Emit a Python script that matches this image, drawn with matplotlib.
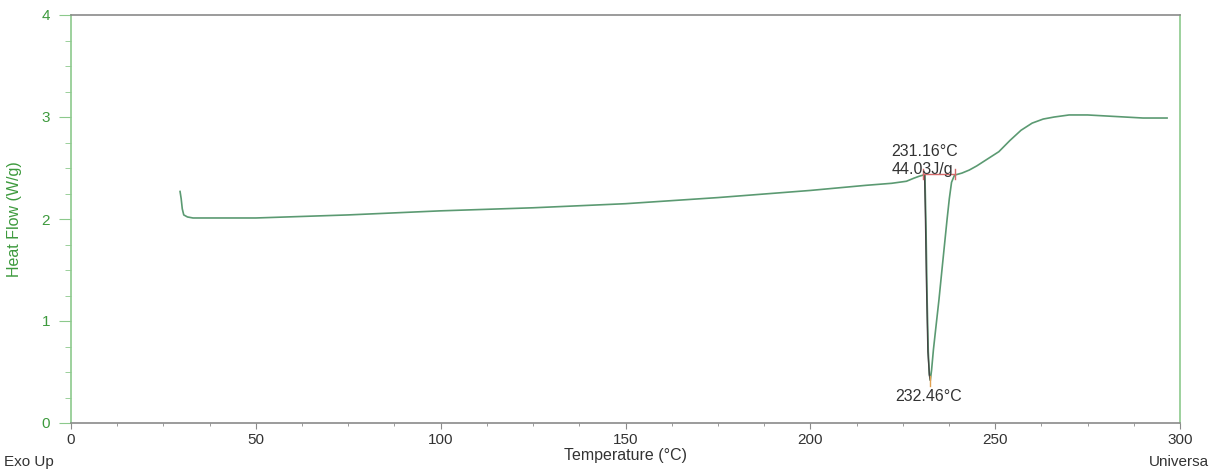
import matplotlib.pyplot as plt
from matplotlib.ticker import MultipleLocator

# DSC trace
temp = [29.5, 29.8, 30.1, 30.5, 31.5, 33, 35, 50, 75, 100, 125, 150, 175, 200,
        215, 222, 226, 228, 229.5, 230.5, 231.0, 231.3, 231.6, 231.9, 232.2,
        232.46, 232.8, 233.3, 234.0, 234.8, 235.6, 236.3, 237.0, 237.6, 238.2,
        239.0, 241, 243, 245, 248, 251, 254, 257, 260, 263, 266, 270, 275,
        280, 285, 290, 296.5]
heat_flow = [2.27, 2.2, 2.1, 2.04, 2.02, 2.01, 2.01, 2.01, 2.04, 2.08, 2.11, 2.15,
             2.21, 2.28, 2.33, 2.35, 2.37, 2.40, 2.42, 2.43, 2.43, 1.90, 1.20,
             0.70, 0.48, 0.42, 0.52, 0.72, 0.95, 1.21, 1.50, 1.75, 2.00, 2.20,
             2.36, 2.43, 2.45, 2.48, 2.52, 2.59, 2.66, 2.77, 2.87, 2.94, 2.98,
             3.00, 3.02, 3.02, 3.01, 3.00, 2.99, 2.99]

# dark overlay on the leading edge of the melting peak
edge_temp = [230.9, 231.1, 231.4, 231.8, 232.2, 232.46]
edge_flow = [2.43, 2.10, 1.40, 0.70, 0.47, 0.42]

# integration limits (J/g baseline)
base_temp = [230.6, 239.1]
base_flow = [2.44, 2.44]

peak_onset = "231.16°C"
peak_area = "44.03J/g"
peak_max = "232.46°C"

plt.rcParams['font.family'] = ['Liberation Sans', 'DejaVu Sans']

green = '#3d9a3d'
line_col = '#5b9a72'
spine_green = '#8cc98c'
gray = '#8a8a8a'
txt = '#333333'

fig = plt.figure(figsize=(12.09, 4.72), dpi=100)
ax = fig.add_axes([71 / 1209, 1 - 423 / 472, (1180 - 71) / 1209, (423 - 15) / 472])

ax.plot(temp, heat_flow, color=line_col, lw=1.2)
ax.plot(edge_temp, edge_flow, color='#444444', lw=1.0)
ax.plot(base_temp, base_flow, color='#d46a6a', lw=1.0)
for bx in base_temp:
    ax.plot([bx, bx], [2.39, 2.49], color='#d46a6a', lw=1.0)
ax.plot([232.46, 232.46], [0.36, 0.46], color='#e0a050', lw=1.0)

ax.text(222.0, 2.66, peak_onset, fontsize=11.5, color=txt, va='center')
ax.text(222.0, 2.49, peak_area, fontsize=11.5, color=txt, va='center')
ax.text(232.0, 0.26, peak_max, fontsize=11.5, color=txt, ha='center', va='center')

ax.set_xlim(0, 300)
ax.set_ylim(0, 4)
ax.xaxis.set_major_locator(MultipleLocator(50))
ax.xaxis.set_minor_locator(MultipleLocator(12.5))
ax.yaxis.set_major_locator(MultipleLocator(1))
ax.yaxis.set_minor_locator(MultipleLocator(0.25))

ax.tick_params(axis='x', which='major', length=4, color=gray, labelcolor=txt,
               labelsize=11, pad=3)
ax.tick_params(axis='x', which='minor', length=2, color=gray)
ax.tick_params(axis='y', which='major', length=9, color=spine_green, labelcolor=green,
               labelsize=11, pad=6)
ax.tick_params(axis='y', which='minor', length=4, color=spine_green)

ax.spines['left'].set_color(spine_green)
ax.spines['right'].set_color(spine_green)
ax.spines['top'].set_color(gray)
ax.spines['bottom'].set_color(gray)
for s in ax.spines.values():
    s.set_linewidth(1.2)

ax.set_xlabel('Temperature (°C)', fontsize=11.5, color=txt, labelpad=1)
ax.set_ylabel('Heat Flow (W/g)', fontsize=11.5, color=green, labelpad=14)

fig.text(4 / 1209, 1 - 462 / 472, 'Exo Up', fontsize=11, color=txt, va='center')
fig.text(1149 / 1209, 1 - 462 / 472, 'Universa', fontsize=11, color=txt, va='center')

fig.savefig('out.png', dpi=100)
